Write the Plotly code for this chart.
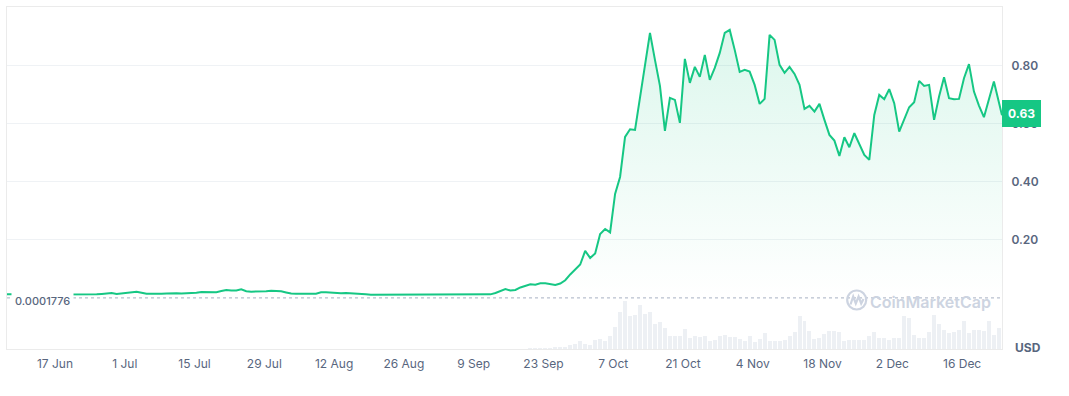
import pandas as pd
import plotly.graph_objects as go

# ---------------- data ----------------
start_date = "2024-06-07 09:00"
last_date = "2024-12-24 00:00"

price_daily = [
    0.0128, 0.0124, 0.0121, 0.0119, 0.0121, 0.0124, 0.0126, 0.0124, 0.0121, 0.0119,
    0.0121, 0.0124, 0.0126, 0.0138, 0.0128, 0.0117, 0.0114, 0.0117, 0.0124, 0.0138,
    0.0155, 0.0172, 0.0138, 0.0162, 0.0183, 0.0197, 0.0214, 0.0179, 0.0148, 0.0145,
    0.0138, 0.0141, 0.0152, 0.0162, 0.0159, 0.0155, 0.0159, 0.0162, 0.0183, 0.0207,
    0.0200, 0.0197, 0.0200, 0.0241, 0.0276, 0.0255, 0.0255, 0.0300, 0.0231, 0.0217,
    0.0217, 0.0221, 0.0234, 0.0252, 0.0245, 0.0228, 0.0190, 0.0152, 0.0145, 0.0138,
    0.0138, 0.0145, 0.0148, 0.0193, 0.0200, 0.0183, 0.0172, 0.0162, 0.0172, 0.0166,
    0.0145, 0.0134, 0.0124, 0.0114, 0.0114, 0.0114, 0.0114, 0.0114, 0.0121, 0.0128,
    0.0121, 0.0110, 0.0103, 0.0110, 0.0114, 0.0110, 0.0107, 0.0103, 0.0103, 0.0103,
    0.0103, 0.0103, 0.0107, 0.0114, 0.0117, 0.0117, 0.0121, 0.0124, 0.0172, 0.0224,
    0.0303, 0.0255, 0.0276, 0.0362, 0.0410, 0.0469, 0.0459, 0.0503, 0.0507, 0.0483,
    0.0448, 0.0497, 0.0610, 0.0810, 0.0983, 0.1152, 0.1621, 0.1379, 0.1534, 0.2207,
    0.2379, 0.2259, 0.3586, 0.4172, 0.5552, 0.5817, 0.5793, 0.6897, 0.8000, 0.9138,
    0.8207, 0.7310, 0.5759, 0.6897, 0.6828, 0.6034, 0.8241, 0.7414, 0.7966, 0.7621,
    0.8379, 0.7517, 0.7931, 0.8448, 0.9138, 0.9241, 0.8552, 0.7793, 0.7862, 0.7803,
    0.7345, 0.6690, 0.6862, 0.9069, 0.8897, 0.8034, 0.7759, 0.7966, 0.7724, 0.7345,
    0.6517, 0.6621, 0.6424, 0.6690, 0.6138, 0.5621, 0.5424, 0.4897, 0.5541, 0.5197,
    0.5679, 0.5276, 0.4931, 0.4759, 0.6310, 0.7000, 0.6852, 0.7197, 0.6714, 0.5734,
    0.6138, 0.6576, 0.6748, 0.7483, 0.7310, 0.7345, 0.6138, 0.6941, 0.7610, 0.6886,
    0.6852, 0.6862, 0.7576, 0.8059, 0.7114, 0.6631, 0.6231, 0.6852, 0.7459,
]
last_price = 0.63
min_price = 0.0001776

# daily trading volume (arbitrary units), starting at day index 105
volume_start_index = 105
volume = [
    0.5, 0.5, 0.8, 0.8, 1.0, 1.2,
    2.5, 2.5, 4.0, 5.0, 8.0, 5.0,
    4.5, 9.5, 10.5, 7.8, 12.8, 22.2, 36.8, 47.8, 32.8, 34.2,
    44.5, 35.5, 37.2, 25.2, 27.2, 21.2, 12.8, 12.8, 13.5, 20.2,
    11.2, 12.8, 12.2, 12.8, 7.8, 8.8, 12.8, 14.5, 12.2, 12.2,
    10.2, 7.8, 13.5, 6.8, 10.2, 16.2, 7.8, 7.8, 7.8, 8.8,
    12.8, 17.2, 32.8, 28.5, 17.8, 10.5, 11.2, 15.2, 17.8, 17.8,
    17.2, 7.8, 9.5, 8.8, 9.5, 8.8, 12.8, 16.8, 11.2, 11.2,
    9.5, 11.2, 11.2, 33.5, 31.2, 14.5, 11.2, 11.2, 17.2, 34.5,
    25.2, 19.5, 16.2, 16.8, 18.8, 28.5, 16.2, 19.5, 19.5, 17.8,
    28.5, 13.8, 21.2,
]

tick_dates = ["2024-06-17", "2024-07-01", "2024-07-15", "2024-07-29", "2024-08-12",
              "2024-08-26", "2024-09-09", "2024-09-23", "2024-10-07", "2024-10-21",
              "2024-11-04", "2024-11-18", "2024-12-02", "2024-12-16"]
tick_labels = ["17 Jun", "1 Jul", "15 Jul", "29 Jul", "12 Aug", "26 Aug", "9 Sep",
               "23 Sep", "7 Oct", "21 Oct", "4 Nov", "18 Nov", "2 Dec", "16 Dec"]
y_ticks = [0.2, 0.4, 0.6, 0.8]
y_tick_labels = ["0.20", "0.40", "0.60", "0.80"]

# ---------------- build ----------------
dates = list(pd.date_range(start_date, periods=len(price_daily), freq="D"))
price_x = dates + [pd.Timestamp(last_date)]
price_y = price_daily + [last_price]
all_days = pd.date_range(start_date, periods=len(price_daily) + 1, freq="D")
vol_x = list(all_days[volume_start_index:volume_start_index + len(volume)])

GREEN = "#16c784"
TXT = "#58667e"
FONT = "Inter"

W, H = 1069, 396
L, R, T, B = 7, 1002, 7, 349


def px(x):
    return (x - L) / (R - L)


def py(y):
    return (B - y) / (B - T)


fig = go.Figure()
fig.add_trace(go.Bar(
    x=vol_x, y=volume, yaxis="y2", marker=dict(color="#edf0f4", line=dict(width=0)),
    width=0.8 * 86400000, hoverinfo="skip", showlegend=False,
))
fig.add_trace(go.Scatter(
    x=price_x, y=price_y, mode="lines", line=dict(color=GREEN, width=2),
    fill="tozeroy",
    fillgradient=dict(type="vertical", start=0, stop=0.93,
                      colorscale=[[0, "rgba(22,199,132,0.0)"], [1, "rgba(22,199,132,0.15)"]]),
    showlegend=False,
))

fig.update_layout(
    width=W, height=H,
    margin=dict(l=L, r=W - R, t=T, b=H - B),
    paper_bgcolor="white", plot_bgcolor="white",
    font=dict(family=FONT, color=TXT, size=12),
    bargap=0,
    xaxis=dict(
        type="date", range=[start_date, last_date],
        tickvals=tick_dates, ticktext=tick_labels, ticks="",
        showgrid=False, zeroline=False,
        showline=True, mirror=True, linecolor="#ebebeb", linewidth=1,
        tickfont=dict(family=FONT, size=12, color=TXT),
        ticklabelstandoff=4,
    ),
    yaxis=dict(
        side="right", range=[-0.176, 1.003],
        tickvals=y_ticks, ticktext=y_tick_labels, ticks="",
        showgrid=True, gridcolor="#eff2f5", gridwidth=1, zeroline=False,
        showline=True, mirror=True, linecolor="#ebebeb", linewidth=1,
        tickfont=dict(family=FONT, size=12, color=TXT, weight=600),
        ticklabelstandoff=6,
    ),
    yaxis2=dict(overlaying="y", range=[0, B - T], visible=False, fixedrange=True),
)

# dotted line at the minimum price
fig.add_shape(type="line", xref="paper", yref="y", x0=0, x1=1, y0=min_price, y1=min_price,
              line=dict(color="#a6b0c3", width=1, dash="dot"))

# min price label
fig.add_annotation(xref="paper", yref="paper", x=0, y=py(300.5), xanchor="left", yanchor="middle",
                   xshift=4, text=f"{min_price:.7f}", showarrow=False, bgcolor="white",
                   borderpad=3, font=dict(family=FONT, size=11, color=TXT, weight=500))

# current price badge
fig.add_annotation(xref="paper", yref="y", x=1, y=last_price, xanchor="left", yanchor="middle",
                   yshift=2, text=f"{last_price:.2f}", showarrow=False, bgcolor=GREEN,
                   bordercolor=GREEN, borderpad=5,
                   font=dict(family=FONT, size=12, color="white", weight=700))

# USD label
fig.add_annotation(xref="paper", yref="paper", x=px(1028), y=py(347), xanchor="center",
                   yanchor="middle", text="USD", showarrow=False,
                   font=dict(family=FONT, size=12, color=TXT, weight=700))

# watermark
WM = "#cdd4e1"
cx, cy, r = 856.7, 300.0, 9.5
fig.add_shape(type="circle", xref="paper", yref="paper",
              x0=px(cx - r), x1=px(cx + r), y0=py(cy + r), y1=py(cy - r),
              line=dict(color=WM, width=2.2))
pts = [(850.5, 304.5), (853.2, 296.5), (855.8, 303.5), (858.6, 296.5), (861.2, 303.5), (863.5, 299.0)]
path = "M " + " L ".join(f"{px(a):.5f},{py(b):.5f}" for a, b in pts)
fig.add_shape(type="path", xref="paper", yref="paper", path=path,
              line=dict(color=WM, width=2.2))
fig.add_annotation(xref="paper", yref="paper", x=px(868), y=py(301.5), xanchor="left",
                   yanchor="middle", text="CoinMarketCap", showarrow=False,
                   font=dict(family=FONT, size=16, color=WM, weight=600))

fig.write_html("out.html", config={"displayModeBar": False},
               post_script="document.body.style.margin='0';")
